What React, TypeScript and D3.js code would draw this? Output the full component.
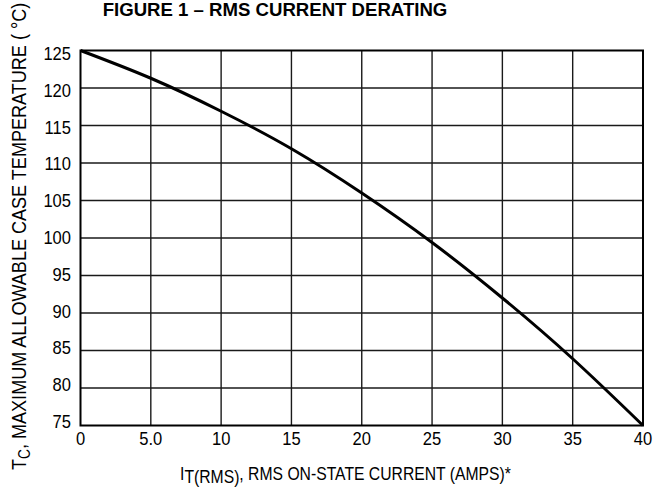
import React from 'react';
import * as d3 from 'd3';

// curve
const currents = [0, 5, 10, 15, 20, 25, 30, 35, 40];
const temps = [125, 121.3, 116.9, 111.9, 106.0, 99.4, 92.0, 83.9, 75];

const xTicks = [0, 5, 10, 15, 20, 25, 30, 35, 40];
const xTickLabels = ['0', '5.0', '10', '15', '20', '25', '30', '35', '40'];
const yTicks = [75, 80, 85, 90, 95, 100, 105, 110, 115, 120, 125];

const width = 653;
const height = 487;
const plot = { left: 80.5, right: 643, top: 50.5, bottom: 425.5 };
const font = '"Liberation Sans", Arial, sans-serif';

export default function App() {
  const x = d3.scaleLinear().domain([0, 40]).range([plot.left, plot.right]);
  const y = d3.scaleLinear().domain([75, 125]).range([plot.bottom, plot.top]);
  // the printed labels sit on a slightly tighter pitch than the grid
  const yLabel = d3.scaleLinear().domain([75, 125]).range([428, 60]);

  const line = d3
    .line<number>()
    .x((d, i) => x(currents[i]))
    .y((d) => y(d))
    .curve(d3.curveNatural);

  return (
    <svg
      width={width}
      height={height}
      style={{ position: 'absolute', left: 0, top: 0, background: '#fff' }}
      fontFamily={font}
    >
      <text
        x={275}
        y={15.5}
        textAnchor="middle"
        fontWeight="bold"
        fontSize={18.6}
        fill="#000"
      >
        FIGURE 1 – RMS CURRENT DERATING
      </text>

      {/* grid */}
      {xTicks.slice(1, -1).map((t) => (
        <line key={'gx' + t} x1={x(t)} x2={x(t)} y1={plot.top} y2={plot.bottom} stroke="#1a1a1a" strokeWidth={1.4} />
      ))}
      {yTicks.slice(1, -1).map((t) => (
        <line key={'gy' + t} x1={plot.left} x2={plot.right} y1={y(t)} y2={y(t)} stroke="#1a1a1a" strokeWidth={1.4} />
      ))}
      <rect
        x={plot.left}
        y={plot.top}
        width={plot.right - plot.left}
        height={plot.bottom - plot.top}
        fill="none"
        stroke="#000"
        strokeWidth={2}
      />

      <path d={line(temps) || ''} fill="none" stroke="#000" strokeWidth={3} />

      {/* y tick labels */}
      {yTicks.map((t) => (
        <text
          key={'yl' + t}
          transform={`translate(71,${yLabel(t)}) scale(0.92,1)`}
          textAnchor="end"
          fontSize={18}
          fill="#000"
        >
          {t}
        </text>
      ))}

      {/* x tick labels */}
      {xTicks.map((t, i) => (
        <text
          key={'xl' + t}
          transform={`translate(${x(t)},445) scale(0.92,1)`}
          textAnchor="middle"
          fontSize={18}
          fill="#000"
        >
          {xTickLabels[i]}
        </text>
      ))}

      {/* x axis title */}
      <text transform="translate(180,480) scale(0.85,1)" fontSize={18.5} fill="#000">
        I
        <tspan dy={2.5}>T(RMS)</tspan>
        <tspan dy={-2.5}>, RMS ON-STATE CURRENT (AMPS)*</tspan>
      </text>

      {/* y axis title */}
      <text transform="translate(25.5,470) rotate(-90) scale(0.86,1)" fontSize={21} fill="#000">
        T
        <tspan dy={4} fontSize={16}>C</tspan>
        <tspan dy={-4}>, MAXIMUM ALLOWABLE CASE TEMPERATURE ( °C)</tspan>
      </text>
    </svg>
  );
}
